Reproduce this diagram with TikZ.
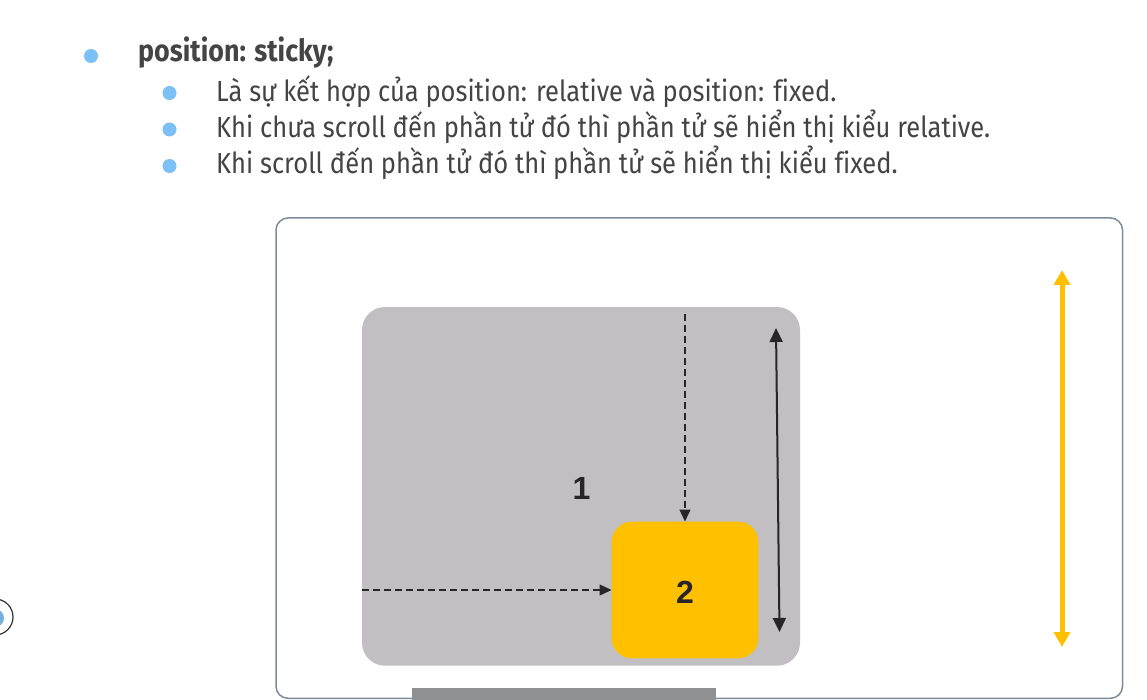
\documentclass[tikz,border=0pt]{standalone}
\usepackage{fontspec}
\setmainfont{Fira Sans}[FakeStretch=0.88, Ligatures=NoCommon]
\newfontfamily\labelfont{Liberation Sans}
\usetikzlibrary{arrows.meta}
\definecolor{txtgray}{HTML}{444444}
\definecolor{bulletblue}{HTML}{7CC0F5}
\definecolor{boxgray}{HTML}{C1BFC2}
\definecolor{stickyyellow}{HTML}{FFC000}
\definecolor{framegray}{HTML}{7B8D9C}
\definecolor{bargray}{HTML}{8F9092}
\definecolor{iconblue}{HTML}{3A8FD0}
\tikzset{
  bulletdot/.style={circle, fill=bulletblue, inner sep=0pt, minimum size=14pt},
  linetext/.style={anchor=base west, inner sep=0pt, text=txtgray, font=\fontsize{29}{34}\selectfont},
  titletext/.style={anchor=base west, inner sep=0pt, text=txtgray, font=\fontsize{30.5}{35}\selectfont\bfseries},
  numlabel/.style={inner sep=0pt, text=black!85, font=\labelfont\fontsize{32}{36}\selectfont\bfseries},
  dasharrow/.style={draw=black!85, line width=1.2pt, dash pattern=on 7pt off 4pt, -{Triangle[length=12pt,width=11pt]}},
  blackarrow/.style={draw=black!85, line width=2pt, {Triangle[length=14pt,width=13pt]}-{Triangle[length=14pt,width=13pt]}},
  yellowarrow/.style={draw=stickyyellow, line width=5pt, {Triangle[length=15pt,width=16pt]}-{Triangle[length=15pt,width=16pt]}}
}
\begin{document}
\begin{tikzpicture}[x=1pt,y=-1pt]
\useasboundingbox (0,0) rectangle (1147,700);
\fill[white] (0,0) rectangle (1147,700);

% text block
\node[bulletdot] (b0) at (91,56) {};
\node[titletext] (t0) at (138,62) {position: sticky;};
\node[bulletdot] (b1) at (169.5,93) {};
\node[linetext] (t1) at (216,101.5) {Là sự kết hợp của position: relative và position: fixed.};
\node[bulletdot] (b2) at (169.5,129.5) {};
\node[linetext] (t2) at (216,138) {Khi chưa scroll đến phần tử đó thì phần tử sẽ hiển thị kiểu relative.};
\node[bulletdot] (b3) at (169.5,166) {};
\node[linetext] (t3) at (216,174) {Khi scroll đến phần tử đó thì phần tử sẽ hiển thị kiểu fixed.};

% left partial icon
\fill[iconblue!70] (-5,618) circle (9);
\draw[black!80, line width=1.2pt] (-5,617) circle (18);

% outer frame
\draw[framegray, line width=1.5pt, rounded corners=12pt] (276,218) rectangle (1122.5,698.3);
% bottom bar
\fill[bargray] (412.3,687.7) rectangle (716,700);

% gray container
\node[fill=boxgray, rounded corners=23pt, inner sep=0pt, minimum width=438pt, minimum height=358.7pt] (box1) at (581,486.35) {};
\node[numlabel] (n1) at (581.5,488) {1};

% yellow sticky element
\node[fill=stickyyellow, rounded corners=20pt, inner sep=0pt, minimum width=146.6pt, minimum height=136.6pt] (box2) at (685,590) {};
\node[numlabel] (n2) at (685,592) {2};

% dashed arrows
\coordinate (hstart) at (box1.west |- box2.west);
\draw[dasharrow] (hstart) -- (box2.west);
\coordinate (vstart) at ([yshift=-7pt]box1.north -| box2.north);
\draw[dasharrow] (vstart) -- (box2.north);

% black double arrow
\coordinate (ba1) at (776,328);
\coordinate (ba2) at (779.5,632);
\draw[blackarrow] (ba1) -- (ba2);

% yellow double arrow
\coordinate (ya1) at (1062,270);
\coordinate (ya2) at (1062,647);
\draw[yellowarrow] (ya1) -- (ya2);
\end{tikzpicture}
\end{document}
